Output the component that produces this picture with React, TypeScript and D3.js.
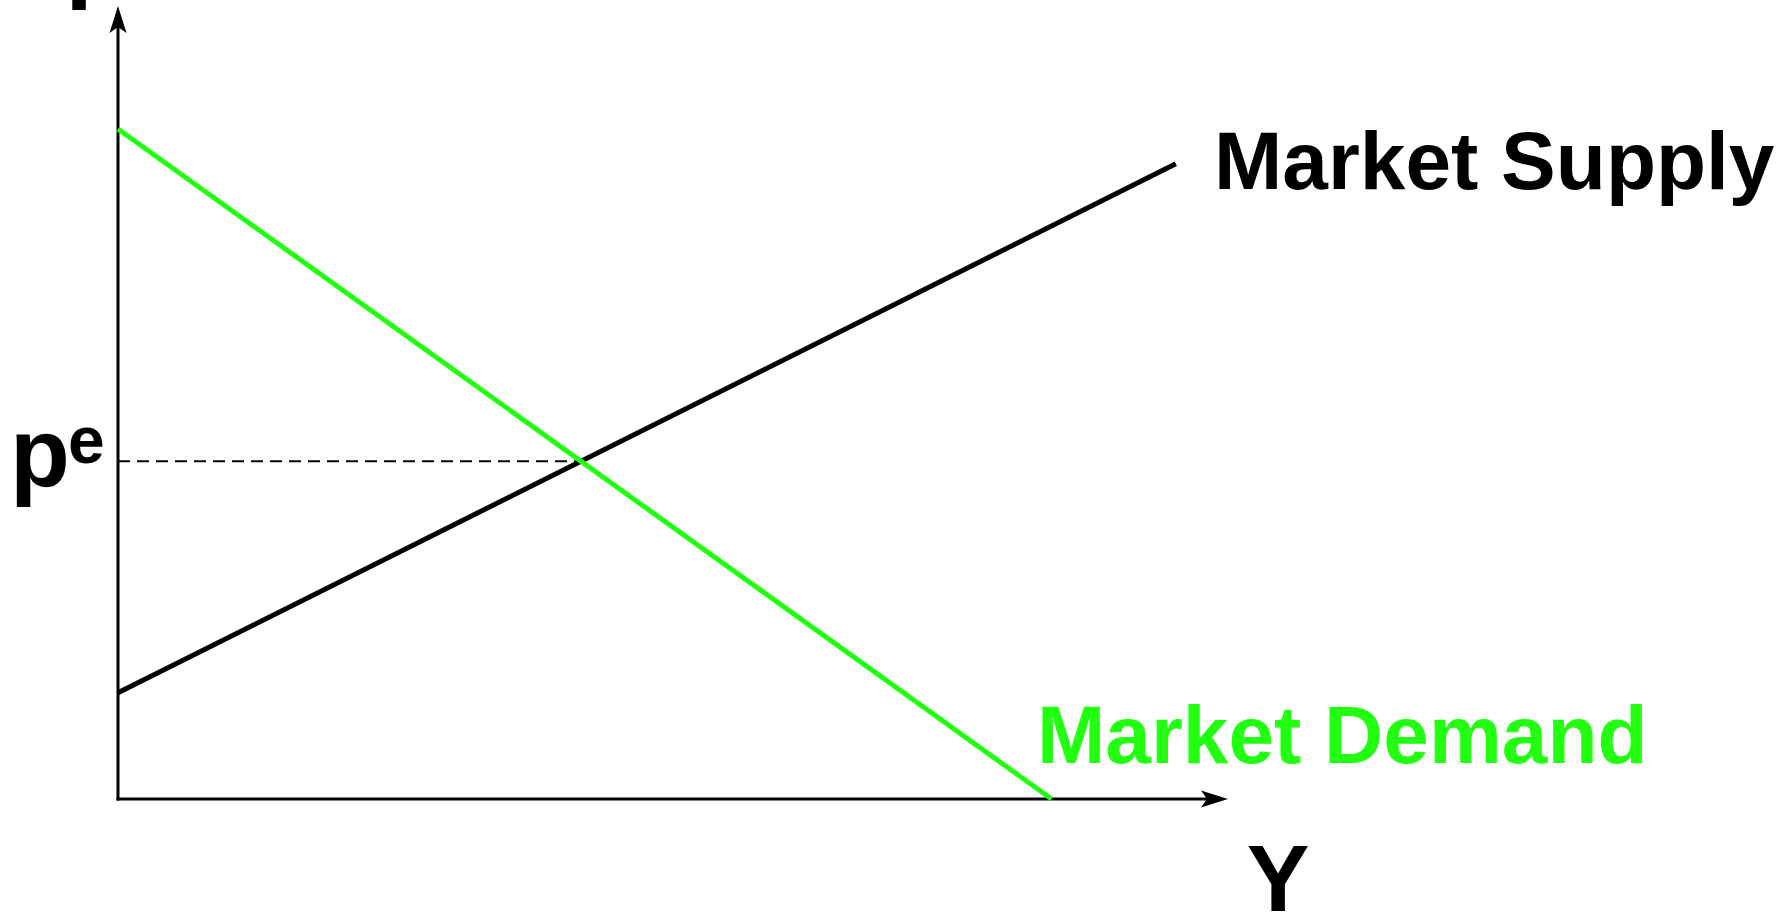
import React from "react";
import * as d3 from "d3";

// Data (economic units)
const demandQ = [0, 84.1];
const demandP = [84.5, 0];
const supplyQ = [0, 95.3];
const supplyP = [13.4, 80.1];
const axisMax = [100, 100];
const labels = { supply: "Market Supply", demand: "Market Demand", xAxis: "Y", yAxis: "P", pe: "p", peSup: "e" };

const W = 1778;
const H = 913;
const GREEN = "#22ff11";

export default function App() {
  const x = d3.scaleLinear().domain([0, axisMax[0]]).range([118, 1228]);
  const y = d3.scaleLinear().domain([0, axisMax[1]]).range([799, 6]);

  const line = d3
    .line<[number, number]>()
    .x((d) => x(d[0]))
    .y((d) => y(d[1]));

  const demand: [number, number][] = demandQ.map((q, i) => [q, demandP[i]]);
  const supply: [number, number][] = supplyQ.map((q, i) => [q, supplyP[i]]);

  // equilibrium
  const dSlope = (demandP[1] - demandP[0]) / (demandQ[1] - demandQ[0]);
  const sSlope = (supplyP[1] - supplyP[0]) / (supplyQ[1] - supplyQ[0]);
  const qe = (supplyP[0] - demandP[0]) / (dSlope - sSlope);
  const pe = demandP[0] + dSlope * qe;

  const ox = x(0);
  const oy = y(0);
  const xEnd = x(axisMax[0]);
  const yEnd = y(axisMax[1]);

  // arrowheads
  const yArrow = `M${ox},${yEnd} L${ox + 8.5},${yEnd + 27} L${ox},${yEnd + 21} L${ox - 8.5},${yEnd + 27} Z`;
  const xArrow = `M${xEnd},${oy} L${xEnd - 27},${oy + 8.5} L${xEnd - 21},${oy} L${xEnd - 27},${oy - 8.5} Z`;

  return (
    <svg
      width={W}
      height={H}
      style={{ position: "absolute", left: 0, top: 0, background: "#fff" }}
      fontFamily="'Liberation Sans', Arial, sans-serif"
      fontWeight="bold"
    >
      {/* axes */}
      <line x1={ox} y1={oy + 1.5} x2={ox} y2={yEnd + 15} stroke="#000" strokeWidth={3} />
      <line x1={ox - 1.5} y1={oy} x2={xEnd - 15} y2={oy} stroke="#000" strokeWidth={3} />
      <path d={yArrow} fill="#000" />
      <path d={xArrow} fill="#000" />

      {/* equilibrium dashed */}
      <line
        x1={ox}
        y1={y(pe)}
        x2={x(qe)}
        y2={y(pe)}
        stroke="#000"
        strokeWidth={2.2}
        strokeDasharray="12 7"
      />

      {/* curves */}
      <path d={line(supply) || ""} fill="none" stroke="#000" strokeWidth={5} />
      <path d={line(demand) || ""} fill="none" stroke={GREEN} strokeWidth={5} />

      {/* labels */}
      <text x={1214} y={189} fontSize={82} fill="#000">
        {labels.supply}
      </text>
      <text x={1037} y={763} fontSize={82} fill={GREEN}>
        {labels.demand}
      </text>
      <text x={1278} y={911} fontSize={94} fill="#000" textAnchor="middle">
        {labels.xAxis}
      </text>
      <text x={66} y={10} fontSize={94} fill="#000">
        {labels.yAxis}
      </text>
      <text x={10} y={487} fontSize={98} fill="#000">
        {labels.pe}
      </text>
      <text x={68} y={463} fontSize={66} fill="#000">
        {labels.peSup}
      </text>
    </svg>
  );
}
